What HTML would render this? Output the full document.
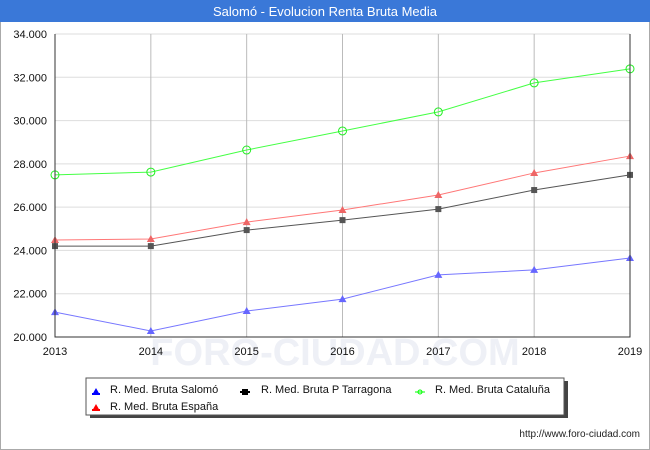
<!DOCTYPE html>
<html><head><meta charset="utf-8"><style>
body{margin:0;width:650px;height:450px;background:#fff;font-family:"Liberation Sans","DejaVu Sans",sans-serif;}
svg{display:block}
</style></head><body>
<svg id="c" width="650" height="450" xmlns="http://www.w3.org/2000/svg">
<rect x="0.5" y="0.5" width="649" height="449" fill="#fff" stroke="#aaa"/>
<rect x="0" y="0" width="650" height="22" fill="#3a78d8"/>
<text x="325" y="16" text-anchor="middle" fill="#fff" font-size="13">Salomó - Evolucion Renta Bruta Media</text>
<text x="335" y="365" text-anchor="middle" fill="#eef0f6" font-size="38" font-weight="bold">FORO-CIUDAD.COM</text>
<g id="grid"></g><g id="series"></g><g id="axes"></g>
<rect x="90" y="381" width="478" height="37" fill="#444"/>
<rect x="86" y="378" width="478" height="37" fill="#fff" stroke="#555"/>
<g font-size="11" fill="#111">
<g><polygon points="96,395 92,395 96,388 100,395" fill="#00f"/><rect x="92" y="393" width="8" height="2" fill="#00f"/><text x="110" y="393">R. Med. Bruta Salomó</text></g>
<g><rect x="242" y="389" width="6" height="6" fill="#000"/><rect x="240" y="391" width="10" height="2" fill="#000"/><text x="261" y="393">R. Med. Bruta P Tarragona</text></g>
<g><line x1="415" y1="392" x2="425" y2="392" stroke="#0f0"/><circle cx="420" cy="392" r="2" fill="none" stroke="#0f0"/><text x="435" y="393">R. Med. Bruta Cataluña</text></g>
<g><polygon points="96,411 92,411 96,404 100,411" fill="#f00"/><rect x="92" y="409" width="8" height="2" fill="#f00"/><text x="110" y="410">R. Med. Bruta España</text></g>
</g>
<text x="640" y="437" text-anchor="end" font-size="10" fill="#222">http://www.foro-ciudad.com</text>
</svg>
<script>
const years=[2013,2014,2015,2016,2017,2018,2019];
const yTicks=[20000,22000,24000,26000,28000,30000,32000,34000];
const salomo=[21150,20280,21200,21750,22870,23100,23650];
const tarragona=[24200,24200,24940,25400,25910,26790,27490];
const espana=[24480,24530,25310,25870,26560,27580,28360];
const cataluna=[27490,27620,28640,29520,30400,31740,32390];
const X0=55,X1=630,Y0=337,Y1=34;
const xs=i=>X0+(X1-X0)*i/(years.length-1);
const ys=v=>Y0-(v-20000)/(34000-20000)*(Y0-Y1);
const NS="http://www.w3.org/2000/svg";
function mk(t,a,p){const e=document.createElementNS(NS,t);for(const k in a)e.setAttribute(k,a[k]);p.appendChild(e);return e;}
const grid=document.getElementById('grid'),axes=document.getElementById('axes'),ser=document.getElementById('series');
yTicks.forEach(v=>{
 const l=mk('line',{x1:X0,x2:X1,y1:ys(v),y2:ys(v),stroke:'#ddd'},grid);
 
 
 const t=mk('text',{x:47,y:ys(v)+4,'text-anchor':'end','font-size':11,fill:'#111'},axes);
 t.textContent=v.toLocaleString('de-DE');
 
 
});
years.forEach((y,i)=>{
 const l=mk('line',{x1:xs(i),x2:xs(i),y1:Y1,y2:Y0,stroke:'#bbb'},grid);
 
 
 const t=mk('text',{x:xs(i),y:355,'text-anchor':'middle','font-size':11,fill:'#111'},axes);
 t.textContent=y;
 
 
});
const ax=mk('path',{d:`M${X0},${Y1}V${Y0}H${X1}V${Y1}`,fill:'none',stroke:'#333'},axes);


function series(vals,line,mark,kind,name){
 const g=mk('g',{},ser);
 
 
 mk('polyline',{points:vals.map((v,i)=>xs(i)+','+ys(v)).join(' '),fill:'none',stroke:line},g);
 vals.forEach((v,i)=>{
  const x=xs(i),y=ys(v);let m;
  if(kind==='tri')m=mk('polygon',{points:`${x},${y-4} ${x+4},${y+3} ${x-4},${y+3}`,fill:mark},g);
  else if(kind==='sq')m=mk('rect',{x:x-3,y:y-3,width:6,height:6,fill:mark},g);
  else m=mk('circle',{cx:x,cy:y,r:4,fill:'none',stroke:mark},g);
  
  
 });
}
series(cataluna,'#4f4','#2e2','circ','series-cataluna');
series(espana,'#f77','#e66','tri','series-espana');
series(tarragona,'#555','#555','sq','series-tarragona');
series(salomo,'#77f','#66f','tri','series-salomo');
</script>
</body></html>
